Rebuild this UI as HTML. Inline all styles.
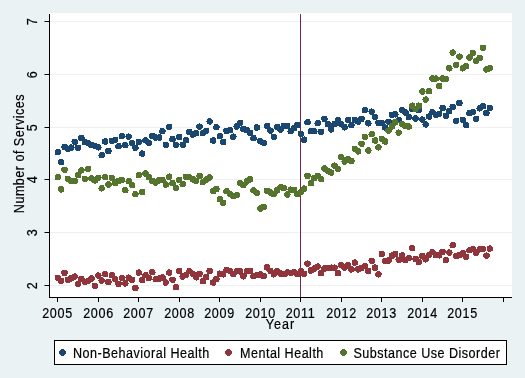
<!DOCTYPE html>
<html><head><meta charset="utf-8"><style>
html,body{margin:0;padding:0;background:#eaf2f3;}
svg{display:block;will-change:transform;}
text{letter-spacing:0.55px;font-family:"Liberation Sans",sans-serif;font-size:14.3px;fill:#000;stroke:#000;stroke-width:0.2px;}
.xd text{letter-spacing:0.75px;}
</style></head><body>
<svg width="525" height="378" viewBox="0 0 525 378">
<rect x="0" y="0" width="525" height="378" fill="#eaf2f3"/>
<rect x="49" y="13" width="463" height="284" fill="#ffffff"/>
<g fill="#f0f0f0"><rect x="50" y="21" width="462" height="1"/><rect x="50" y="74" width="462" height="1"/><rect x="50" y="127" width="462" height="1"/><rect x="50" y="179" width="462" height="1"/><rect x="50" y="232" width="462" height="1"/><rect x="50" y="285" width="462" height="1"/></g>
<rect x="300" y="14" width="1" height="283" fill="#7a264e"/>
<g fill="#1a476f" shape-rendering="crispEdges"><circle cx="57.800" cy="152.10" r="3.25"/><circle cx="61.175" cy="162.10" r="3.25"/><circle cx="64.550" cy="147.00" r="3.25"/><circle cx="67.925" cy="148.80" r="3.25"/><circle cx="71.300" cy="147.60" r="3.25"/><circle cx="74.675" cy="141.90" r="3.25"/><circle cx="78.050" cy="147.70" r="3.25"/><circle cx="81.425" cy="138.00" r="3.25"/><circle cx="84.800" cy="142.20" r="3.25"/><circle cx="88.175" cy="143.30" r="3.25"/><circle cx="91.550" cy="144.90" r="3.25"/><circle cx="94.925" cy="145.90" r="3.25"/><circle cx="98.300" cy="147.30" r="3.25"/><circle cx="101.675" cy="155.20" r="3.25"/><circle cx="105.050" cy="141.50" r="3.25"/><circle cx="108.425" cy="151.00" r="3.25"/><circle cx="111.800" cy="140.90" r="3.25"/><circle cx="115.175" cy="139.90" r="3.25"/><circle cx="118.550" cy="146.20" r="3.25"/><circle cx="121.925" cy="136.20" r="3.25"/><circle cx="125.300" cy="145.20" r="3.25"/><circle cx="128.675" cy="136.70" r="3.25"/><circle cx="132.050" cy="143.10" r="3.25"/><circle cx="135.425" cy="147.80" r="3.25"/><circle cx="138.800" cy="142.00" r="3.25"/><circle cx="142.175" cy="153.60" r="3.25"/><circle cx="145.550" cy="140.30" r="3.25"/><circle cx="148.925" cy="142.80" r="3.25"/><circle cx="152.300" cy="135.90" r="3.25"/><circle cx="155.675" cy="137.50" r="3.25"/><circle cx="159.050" cy="137.50" r="3.25"/><circle cx="162.425" cy="131.20" r="3.25"/><circle cx="165.800" cy="144.90" r="3.25"/><circle cx="169.175" cy="126.90" r="3.25"/><circle cx="172.550" cy="139.10" r="3.25"/><circle cx="175.925" cy="144.90" r="3.25"/><circle cx="179.300" cy="137.00" r="3.25"/><circle cx="182.675" cy="144.90" r="3.25"/><circle cx="186.050" cy="140.10" r="3.25"/><circle cx="189.425" cy="132.10" r="3.25"/><circle cx="192.800" cy="134.60" r="3.25"/><circle cx="196.175" cy="133.10" r="3.25"/><circle cx="199.550" cy="126.70" r="3.25"/><circle cx="202.925" cy="133.10" r="3.25"/><circle cx="206.300" cy="130.90" r="3.25"/><circle cx="209.675" cy="121.40" r="3.25"/><circle cx="213.050" cy="140.50" r="3.25"/><circle cx="216.425" cy="127.20" r="3.25"/><circle cx="219.800" cy="136.20" r="3.25"/><circle cx="223.175" cy="142.00" r="3.25"/><circle cx="226.550" cy="130.90" r="3.25"/><circle cx="229.925" cy="130.30" r="3.25"/><circle cx="233.300" cy="136.70" r="3.25"/><circle cx="236.675" cy="126.50" r="3.25"/><circle cx="240.050" cy="122.80" r="3.25"/><circle cx="243.425" cy="129.10" r="3.25"/><circle cx="246.800" cy="130.20" r="3.25"/><circle cx="250.175" cy="132.80" r="3.25"/><circle cx="253.550" cy="138.10" r="3.25"/><circle cx="256.925" cy="127.50" r="3.25"/><circle cx="260.300" cy="141.30" r="3.25"/><circle cx="263.675" cy="142.90" r="3.25"/><circle cx="267.050" cy="125.90" r="3.25"/><circle cx="270.425" cy="130.70" r="3.25"/><circle cx="273.800" cy="136.80" r="3.25"/><circle cx="277.175" cy="127.00" r="3.25"/><circle cx="280.550" cy="129.60" r="3.25"/><circle cx="283.925" cy="125.90" r="3.25"/><circle cx="287.300" cy="125.90" r="3.25"/><circle cx="290.675" cy="131.20" r="3.25"/><circle cx="294.050" cy="128.10" r="3.25"/><circle cx="297.425" cy="124.90" r="3.25"/><circle cx="300.800" cy="133.90" r="3.25"/><circle cx="304.175" cy="139.70" r="3.25"/><circle cx="307.550" cy="122.20" r="3.25"/><circle cx="310.925" cy="131.20" r="3.25"/><circle cx="314.300" cy="131.20" r="3.25"/><circle cx="317.675" cy="123.20" r="3.25"/><circle cx="321.050" cy="131.70" r="3.25"/><circle cx="324.425" cy="118.80" r="3.25"/><circle cx="327.800" cy="124.10" r="3.25"/><circle cx="331.175" cy="129.40" r="3.25"/><circle cx="334.550" cy="124.10" r="3.25"/><circle cx="337.925" cy="120.40" r="3.25"/><circle cx="341.300" cy="124.10" r="3.25"/><circle cx="344.675" cy="127.30" r="3.25"/><circle cx="348.050" cy="119.90" r="3.25"/><circle cx="351.425" cy="125.20" r="3.25"/><circle cx="354.800" cy="119.90" r="3.25"/><circle cx="358.175" cy="121.50" r="3.25"/><circle cx="361.550" cy="118.90" r="3.25"/><circle cx="364.925" cy="110.20" r="3.25"/><circle cx="368.300" cy="123.30" r="3.25"/><circle cx="371.675" cy="111.70" r="3.25"/><circle cx="375.050" cy="117.00" r="3.25"/><circle cx="378.425" cy="122.80" r="3.25"/><circle cx="381.800" cy="122.80" r="3.25"/><circle cx="385.175" cy="127.60" r="3.25"/><circle cx="388.550" cy="121.80" r="3.25"/><circle cx="391.925" cy="114.90" r="3.25"/><circle cx="395.300" cy="114.30" r="3.25"/><circle cx="398.675" cy="120.20" r="3.25"/><circle cx="402.050" cy="110.10" r="3.25"/><circle cx="405.425" cy="112.50" r="3.25"/><circle cx="408.800" cy="117.00" r="3.25"/><circle cx="412.175" cy="109.10" r="3.25"/><circle cx="415.550" cy="118.60" r="3.25"/><circle cx="418.925" cy="110.10" r="3.25"/><circle cx="422.300" cy="119.60" r="3.25"/><circle cx="425.675" cy="124.40" r="3.25"/><circle cx="429.050" cy="116.50" r="3.25"/><circle cx="432.425" cy="112.20" r="3.25"/><circle cx="435.800" cy="114.90" r="3.25"/><circle cx="439.175" cy="113.80" r="3.25"/><circle cx="442.550" cy="108.00" r="3.25"/><circle cx="445.925" cy="115.90" r="3.25"/><circle cx="449.300" cy="111.00" r="3.25"/><circle cx="452.675" cy="106.80" r="3.25"/><circle cx="456.050" cy="120.80" r="3.25"/><circle cx="459.425" cy="103.00" r="3.25"/><circle cx="462.800" cy="119.90" r="3.25"/><circle cx="466.175" cy="125.20" r="3.25"/><circle cx="469.550" cy="113.10" r="3.25"/><circle cx="472.925" cy="112.00" r="3.25"/><circle cx="476.300" cy="118.90" r="3.25"/><circle cx="479.675" cy="108.30" r="3.25"/><circle cx="483.050" cy="106.20" r="3.25"/><circle cx="486.425" cy="113.10" r="3.25"/><circle cx="489.800" cy="107.80" r="3.25"/></g>
<g fill="#90353b" shape-rendering="crispEdges"><circle cx="57.800" cy="277.80" r="3.25"/><circle cx="61.175" cy="280.90" r="3.25"/><circle cx="64.550" cy="272.90" r="3.25"/><circle cx="67.925" cy="279.90" r="3.25"/><circle cx="71.300" cy="278.30" r="3.25"/><circle cx="74.675" cy="276.60" r="3.25"/><circle cx="78.050" cy="283.80" r="3.25"/><circle cx="81.425" cy="279.00" r="3.25"/><circle cx="84.800" cy="281.70" r="3.25"/><circle cx="88.175" cy="280.90" r="3.25"/><circle cx="91.550" cy="278.60" r="3.25"/><circle cx="94.925" cy="285.80" r="3.25"/><circle cx="98.300" cy="275.60" r="3.25"/><circle cx="101.675" cy="280.50" r="3.25"/><circle cx="105.050" cy="274.20" r="3.25"/><circle cx="108.425" cy="282.10" r="3.25"/><circle cx="111.800" cy="275.10" r="3.25"/><circle cx="115.175" cy="279.10" r="3.25"/><circle cx="118.550" cy="283.90" r="3.25"/><circle cx="121.925" cy="278.00" r="3.25"/><circle cx="125.300" cy="283.40" r="3.25"/><circle cx="128.675" cy="277.70" r="3.25"/><circle cx="132.050" cy="279.90" r="3.25"/><circle cx="135.425" cy="288.10" r="3.25"/><circle cx="138.800" cy="272.60" r="3.25"/><circle cx="142.175" cy="280.10" r="3.25"/><circle cx="145.550" cy="275.20" r="3.25"/><circle cx="148.925" cy="278.20" r="3.25"/><circle cx="152.300" cy="272.20" r="3.25"/><circle cx="155.675" cy="279.20" r="3.25"/><circle cx="159.050" cy="278.50" r="3.25"/><circle cx="162.425" cy="277.50" r="3.25"/><circle cx="165.800" cy="282.50" r="3.25"/><circle cx="169.175" cy="272.60" r="3.25"/><circle cx="172.550" cy="279.80" r="3.25"/><circle cx="175.925" cy="287.30" r="3.25"/><circle cx="179.300" cy="271.00" r="3.25"/><circle cx="182.675" cy="276.60" r="3.25"/><circle cx="186.050" cy="275.00" r="3.25"/><circle cx="189.425" cy="271.20" r="3.25"/><circle cx="192.800" cy="273.80" r="3.25"/><circle cx="196.175" cy="277.30" r="3.25"/><circle cx="199.550" cy="273.80" r="3.25"/><circle cx="202.925" cy="281.30" r="3.25"/><circle cx="206.300" cy="277.00" r="3.25"/><circle cx="209.675" cy="271.00" r="3.25"/><circle cx="213.050" cy="282.50" r="3.25"/><circle cx="216.425" cy="279.00" r="3.25"/><circle cx="219.800" cy="273.70" r="3.25"/><circle cx="223.175" cy="274.30" r="3.25"/><circle cx="226.550" cy="270.00" r="3.25"/><circle cx="229.925" cy="270.90" r="3.25"/><circle cx="233.300" cy="274.00" r="3.25"/><circle cx="236.675" cy="271.30" r="3.25"/><circle cx="240.050" cy="271.40" r="3.25"/><circle cx="243.425" cy="276.30" r="3.25"/><circle cx="246.800" cy="271.30" r="3.25"/><circle cx="250.175" cy="271.00" r="3.25"/><circle cx="253.550" cy="276.10" r="3.25"/><circle cx="256.925" cy="274.90" r="3.25"/><circle cx="260.300" cy="274.50" r="3.25"/><circle cx="263.675" cy="276.10" r="3.25"/><circle cx="267.050" cy="267.40" r="3.25"/><circle cx="270.425" cy="270.80" r="3.25"/><circle cx="273.800" cy="274.30" r="3.25"/><circle cx="277.175" cy="271.10" r="3.25"/><circle cx="280.550" cy="273.60" r="3.25"/><circle cx="283.925" cy="274.30" r="3.25"/><circle cx="287.300" cy="272.40" r="3.25"/><circle cx="290.675" cy="272.80" r="3.25"/><circle cx="294.050" cy="272.30" r="3.25"/><circle cx="297.425" cy="274.00" r="3.25"/><circle cx="300.800" cy="271.10" r="3.25"/><circle cx="304.175" cy="273.90" r="3.25"/><circle cx="307.550" cy="263.70" r="3.25"/><circle cx="310.925" cy="270.50" r="3.25"/><circle cx="314.300" cy="268.60" r="3.25"/><circle cx="317.675" cy="266.60" r="3.25"/><circle cx="321.050" cy="273.30" r="3.25"/><circle cx="324.425" cy="268.50" r="3.25"/><circle cx="327.800" cy="268.10" r="3.25"/><circle cx="331.175" cy="267.70" r="3.25"/><circle cx="334.550" cy="267.70" r="3.25"/><circle cx="337.925" cy="273.30" r="3.25"/><circle cx="341.300" cy="265.30" r="3.25"/><circle cx="344.675" cy="267.70" r="3.25"/><circle cx="348.050" cy="265.00" r="3.25"/><circle cx="351.425" cy="269.40" r="3.25"/><circle cx="354.800" cy="262.60" r="3.25"/><circle cx="358.175" cy="269.40" r="3.25"/><circle cx="361.550" cy="267.80" r="3.25"/><circle cx="364.925" cy="266.20" r="3.25"/><circle cx="368.300" cy="271.00" r="3.25"/><circle cx="371.675" cy="260.90" r="3.25"/><circle cx="375.050" cy="267.60" r="3.25"/><circle cx="378.425" cy="274.30" r="3.25"/><circle cx="381.800" cy="254.00" r="3.25"/><circle cx="385.175" cy="261.20" r="3.25"/><circle cx="388.550" cy="260.40" r="3.25"/><circle cx="391.925" cy="255.60" r="3.25"/><circle cx="395.300" cy="254.00" r="3.25"/><circle cx="398.675" cy="259.80" r="3.25"/><circle cx="402.050" cy="255.50" r="3.25"/><circle cx="405.425" cy="260.10" r="3.25"/><circle cx="408.800" cy="258.20" r="3.25"/><circle cx="412.175" cy="248.20" r="3.25"/><circle cx="415.550" cy="259.00" r="3.25"/><circle cx="418.925" cy="262.10" r="3.25"/><circle cx="422.300" cy="255.80" r="3.25"/><circle cx="425.675" cy="259.30" r="3.25"/><circle cx="429.050" cy="254.80" r="3.25"/><circle cx="432.425" cy="252.20" r="3.25"/><circle cx="435.800" cy="255.00" r="3.25"/><circle cx="439.175" cy="255.30" r="3.25"/><circle cx="442.550" cy="251.80" r="3.25"/><circle cx="445.925" cy="260.10" r="3.25"/><circle cx="449.300" cy="252.60" r="3.25"/><circle cx="452.675" cy="245.20" r="3.25"/><circle cx="456.050" cy="256.10" r="3.25"/><circle cx="459.425" cy="254.90" r="3.25"/><circle cx="462.800" cy="253.30" r="3.25"/><circle cx="466.175" cy="256.90" r="3.25"/><circle cx="469.550" cy="250.20" r="3.25"/><circle cx="472.925" cy="249.30" r="3.25"/><circle cx="476.300" cy="252.70" r="3.25"/><circle cx="479.675" cy="249.30" r="3.25"/><circle cx="483.050" cy="249.00" r="3.25"/><circle cx="486.425" cy="255.70" r="3.25"/><circle cx="489.800" cy="248.60" r="3.25"/></g>
<g fill="#55752f" shape-rendering="crispEdges"><circle cx="57.800" cy="177.20" r="3.25"/><circle cx="61.175" cy="189.40" r="3.25"/><circle cx="64.550" cy="169.80" r="3.25"/><circle cx="67.925" cy="178.80" r="3.25"/><circle cx="71.300" cy="180.90" r="3.25"/><circle cx="74.675" cy="180.90" r="3.25"/><circle cx="78.050" cy="175.10" r="3.25"/><circle cx="81.425" cy="170.30" r="3.25"/><circle cx="84.800" cy="178.80" r="3.25"/><circle cx="88.175" cy="168.80" r="3.25"/><circle cx="91.550" cy="178.30" r="3.25"/><circle cx="94.925" cy="180.40" r="3.25"/><circle cx="98.300" cy="177.80" r="3.25"/><circle cx="101.675" cy="188.30" r="3.25"/><circle cx="105.050" cy="177.20" r="3.25"/><circle cx="108.425" cy="184.60" r="3.25"/><circle cx="111.800" cy="177.80" r="3.25"/><circle cx="115.175" cy="183.10" r="3.25"/><circle cx="118.550" cy="180.90" r="3.25"/><circle cx="121.925" cy="179.90" r="3.25"/><circle cx="125.300" cy="190.20" r="3.25"/><circle cx="128.675" cy="181.20" r="3.25"/><circle cx="132.050" cy="185.20" r="3.25"/><circle cx="135.425" cy="194.20" r="3.25"/><circle cx="138.800" cy="175.10" r="3.25"/><circle cx="142.175" cy="192.00" r="3.25"/><circle cx="145.550" cy="173.50" r="3.25"/><circle cx="148.925" cy="177.20" r="3.25"/><circle cx="152.300" cy="180.90" r="3.25"/><circle cx="155.675" cy="182.50" r="3.25"/><circle cx="159.050" cy="180.40" r="3.25"/><circle cx="162.425" cy="180.10" r="3.25"/><circle cx="165.800" cy="184.60" r="3.25"/><circle cx="169.175" cy="176.70" r="3.25"/><circle cx="172.550" cy="183.10" r="3.25"/><circle cx="175.925" cy="187.80" r="3.25"/><circle cx="179.300" cy="179.90" r="3.25"/><circle cx="182.675" cy="184.10" r="3.25"/><circle cx="186.050" cy="176.70" r="3.25"/><circle cx="189.425" cy="177.20" r="3.25"/><circle cx="192.800" cy="179.30" r="3.25"/><circle cx="196.175" cy="180.80" r="3.25"/><circle cx="199.550" cy="176.00" r="3.25"/><circle cx="202.925" cy="182.20" r="3.25"/><circle cx="206.300" cy="179.60" r="3.25"/><circle cx="209.675" cy="177.50" r="3.25"/><circle cx="213.050" cy="191.20" r="3.25"/><circle cx="216.425" cy="189.10" r="3.25"/><circle cx="219.800" cy="199.20" r="3.25"/><circle cx="223.175" cy="202.90" r="3.25"/><circle cx="226.550" cy="191.20" r="3.25"/><circle cx="229.925" cy="193.90" r="3.25"/><circle cx="233.300" cy="196.10" r="3.25"/><circle cx="236.675" cy="195.20" r="3.25"/><circle cx="240.050" cy="183.00" r="3.25"/><circle cx="243.425" cy="185.10" r="3.25"/><circle cx="246.800" cy="181.40" r="3.25"/><circle cx="250.175" cy="179.30" r="3.25"/><circle cx="253.550" cy="190.40" r="3.25"/><circle cx="256.925" cy="192.80" r="3.25"/><circle cx="260.300" cy="208.60" r="3.25"/><circle cx="263.675" cy="206.80" r="3.25"/><circle cx="267.050" cy="190.70" r="3.25"/><circle cx="270.425" cy="192.50" r="3.25"/><circle cx="273.800" cy="194.10" r="3.25"/><circle cx="277.175" cy="190.40" r="3.25"/><circle cx="280.550" cy="187.20" r="3.25"/><circle cx="283.925" cy="188.20" r="3.25"/><circle cx="287.300" cy="194.60" r="3.25"/><circle cx="290.675" cy="189.70" r="3.25"/><circle cx="294.050" cy="189.80" r="3.25"/><circle cx="297.425" cy="193.90" r="3.25"/><circle cx="300.800" cy="192.30" r="3.25"/><circle cx="304.175" cy="188.60" r="3.25"/><circle cx="307.550" cy="175.90" r="3.25"/><circle cx="310.925" cy="183.30" r="3.25"/><circle cx="314.300" cy="178.00" r="3.25"/><circle cx="317.675" cy="175.90" r="3.25"/><circle cx="321.050" cy="179.10" r="3.25"/><circle cx="324.425" cy="168.50" r="3.25"/><circle cx="327.800" cy="170.80" r="3.25"/><circle cx="331.175" cy="172.60" r="3.25"/><circle cx="334.550" cy="165.70" r="3.25"/><circle cx="337.925" cy="168.90" r="3.25"/><circle cx="341.300" cy="157.20" r="3.25"/><circle cx="344.675" cy="161.50" r="3.25"/><circle cx="348.050" cy="159.30" r="3.25"/><circle cx="351.425" cy="160.90" r="3.25"/><circle cx="354.800" cy="148.80" r="3.25"/><circle cx="358.175" cy="151.40" r="3.25"/><circle cx="361.550" cy="143.80" r="3.25"/><circle cx="364.925" cy="136.90" r="3.25"/><circle cx="368.300" cy="150.50" r="3.25"/><circle cx="371.675" cy="134.20" r="3.25"/><circle cx="375.050" cy="140.50" r="3.25"/><circle cx="378.425" cy="147.30" r="3.25"/><circle cx="381.800" cy="138.90" r="3.25"/><circle cx="385.175" cy="141.50" r="3.25"/><circle cx="388.550" cy="130.70" r="3.25"/><circle cx="391.925" cy="126.40" r="3.25"/><circle cx="395.300" cy="122.30" r="3.25"/><circle cx="398.675" cy="132.70" r="3.25"/><circle cx="402.050" cy="124.00" r="3.25"/><circle cx="405.425" cy="125.90" r="3.25"/><circle cx="408.800" cy="126.60" r="3.25"/><circle cx="412.175" cy="105.70" r="3.25"/><circle cx="415.550" cy="108.90" r="3.25"/><circle cx="418.925" cy="105.70" r="3.25"/><circle cx="422.300" cy="91.50" r="3.25"/><circle cx="425.675" cy="99.60" r="3.25"/><circle cx="429.050" cy="91.30" r="3.25"/><circle cx="432.425" cy="78.60" r="3.25"/><circle cx="435.800" cy="78.60" r="3.25"/><circle cx="439.175" cy="86.00" r="3.25"/><circle cx="442.550" cy="78.60" r="3.25"/><circle cx="445.925" cy="79.10" r="3.25"/><circle cx="449.300" cy="68.30" r="3.25"/><circle cx="452.675" cy="52.60" r="3.25"/><circle cx="456.050" cy="64.90" r="3.25"/><circle cx="459.425" cy="56.70" r="3.25"/><circle cx="462.800" cy="68.30" r="3.25"/><circle cx="466.175" cy="66.20" r="3.25"/><circle cx="469.550" cy="57.60" r="3.25"/><circle cx="472.925" cy="52.90" r="3.25"/><circle cx="476.300" cy="60.90" r="3.25"/><circle cx="479.675" cy="57.80" r="3.25"/><circle cx="483.050" cy="47.70" r="3.25"/><circle cx="486.425" cy="69.40" r="3.25"/><circle cx="489.800" cy="68.30" r="3.25"/></g>
<g fill="#000">
<rect x="49" y="14" width="1" height="284"/>
<rect x="49" y="297" width="463" height="1"/>
<rect x="44.5" y="21" width="4.5" height="1"/><rect x="44.5" y="74" width="4.5" height="1"/><rect x="44.5" y="127" width="4.5" height="1"/><rect x="44.5" y="179" width="4.5" height="1"/><rect x="44.5" y="232" width="4.5" height="1"/><rect x="44.5" y="285" width="4.5" height="1"/><rect x="57" y="298" width="1" height="4"/><rect x="98" y="298" width="1" height="4"/><rect x="138" y="298" width="1" height="4"/><rect x="179" y="298" width="1" height="4"/><rect x="219" y="298" width="1" height="4"/><rect x="260" y="298" width="1" height="4"/><rect x="300" y="298" width="1" height="4"/><rect x="341" y="298" width="1" height="4"/><rect x="381" y="298" width="1" height="4"/><rect x="422" y="298" width="1" height="4"/><rect x="462" y="298" width="1" height="4"/><rect x="503" y="298" width="1" height="4"/>
</g>
<text transform="translate(37.3,21.5) rotate(-90) scale(0.88,1)" text-anchor="middle">7</text><text transform="translate(37.3,74.5) rotate(-90) scale(0.88,1)" text-anchor="middle">6</text><text transform="translate(37.3,127.5) rotate(-90) scale(0.88,1)" text-anchor="middle">5</text><text transform="translate(37.3,179.5) rotate(-90) scale(0.88,1)" text-anchor="middle">4</text><text transform="translate(37.3,232.5) rotate(-90) scale(0.88,1)" text-anchor="middle">3</text><text transform="translate(37.3,285.5) rotate(-90) scale(0.88,1)" text-anchor="middle">2</text>
<g class="xd"><text transform="translate(57.5,317.7) scale(0.88,1)" text-anchor="middle">2005</text><text transform="translate(98.5,317.7) scale(0.88,1)" text-anchor="middle">2006</text><text transform="translate(138.5,317.7) scale(0.88,1)" text-anchor="middle">2007</text><text transform="translate(179.5,317.7) scale(0.88,1)" text-anchor="middle">2008</text><text transform="translate(219.5,317.7) scale(0.88,1)" text-anchor="middle">2009</text><text transform="translate(260.5,317.7) scale(0.88,1)" text-anchor="middle">2010</text><text transform="translate(300.5,317.7) scale(0.88,1)" text-anchor="middle">2011</text><text transform="translate(341.5,317.7) scale(0.88,1)" text-anchor="middle">2012</text><text transform="translate(381.5,317.7) scale(0.88,1)" text-anchor="middle">2013</text><text transform="translate(422.5,317.7) scale(0.88,1)" text-anchor="middle">2014</text><text transform="translate(462.5,317.7) scale(0.88,1)" text-anchor="middle">2015</text></g>
<text transform="translate(24.0,153.6) rotate(-90) scale(0.88,1)" text-anchor="middle">Number of Services</text>
<text transform="translate(280.5,328.6) scale(0.88,1)" text-anchor="middle" style="letter-spacing:1.2px">Year</text>
<rect x="54" y="340" width="453" height="25" fill="#000"/>
<rect x="55" y="341" width="451" height="23" fill="#fff"/>
<circle cx="62.5" cy="352.5" r="3.25" fill="#1a476f" shape-rendering="crispEdges"/>
<circle cx="228.5" cy="352.5" r="3.25" fill="#90353b" shape-rendering="crispEdges"/>
<circle cx="343.5" cy="352.5" r="3.25" fill="#55752f" shape-rendering="crispEdges"/>
<g class="lg"><text transform="translate(73,358) scale(0.88,1)">Non-Behavioral Health</text>
<text transform="translate(240,358) scale(0.88,1)">Mental Health</text>
<text transform="translate(353.5,358) scale(0.88,1)">Substance Use Disorder</text></g>
</svg>
</body></html>
